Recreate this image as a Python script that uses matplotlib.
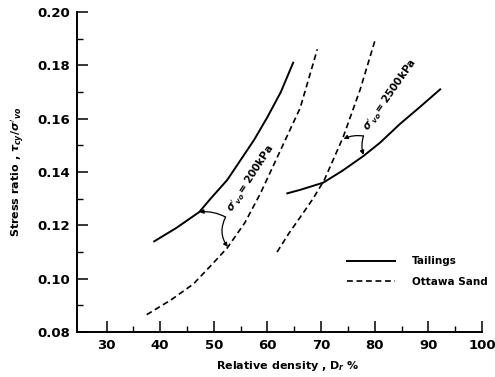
import matplotlib
matplotlib.use("Agg")
import matplotlib.pyplot as plt
from matplotlib.ticker import FixedLocator

# values
tail_200_x = [38.9, 43.0, 47.3, 49.4, 52.5, 55.0, 57.5, 60.0, 62.5, 64.8]
tail_200_y = [0.114, 0.119, 0.125, 0.130, 0.137, 0.1445, 0.152, 0.1606, 0.170, 0.181]

ott_200_x = [37.5, 42.0, 46.2, 49.5, 52.5, 55.8, 58.7, 62.4, 66.1, 69.3]
ott_200_y = [0.0865, 0.092, 0.098, 0.105, 0.1115, 0.121, 0.132, 0.148, 0.164, 0.186]

tail_2500_x = [63.7, 66.1, 70.4, 74.0, 77.9, 81.0, 84.7, 88.5, 92.2]
tail_2500_y = [0.132, 0.1333, 0.136, 0.1405, 0.146, 0.151, 0.158, 0.1645, 0.171]

ott_2500_x = [61.8, 64.0, 66.1, 68.5, 70.6, 74.1, 77.3, 80.0]
ott_2500_y = [0.110, 0.117, 0.123, 0.130, 0.137, 0.153, 0.171, 0.189]

# annotation pointers: junction, tip on tailings, tip on sand
ann_200 = [(52.2, 0.1231), (47.3, 0.125), (52.6, 0.1119)]
ann_2500 = [(77.9, 0.1535), (74.2, 0.1524), (77.9, 0.1464)]

x_major = [30, 40, 50, 60, 70, 80, 90, 100]
x_minor = [35, 45, 55, 65, 75, 85, 95]
y_major = [0.08, 0.10, 0.12, 0.14, 0.16, 0.18, 0.20]
y_minor = [0.09, 0.11, 0.13, 0.15, 0.17, 0.19]
y_labels = ['0.08', '0.10', '0.12', '0.14', '0.16', '0.18', '0.20']

plt.rcParams['font.family'] = ['DejaVu Sans']
plt.rcParams['font.weight'] = 'bold'

fig = plt.figure(figsize=(4.95, 3.77), dpi=100)
ax = fig.add_axes([77/495, 1-332/377, 405/495, 320/377])

dash = (0, (3.5, 2.2))
ax.plot(tail_200_x, tail_200_y, color='black', lw=1.4, label='Tailings')
ax.plot(ott_200_x, ott_200_y, color='black', lw=1.2, linestyle=dash, label='Ottawa Sand')
ax.plot(tail_2500_x, tail_2500_y, color='black', lw=1.4)
ax.plot(ott_2500_x, ott_2500_y, color='black', lw=1.2, linestyle=dash)

for pts, rad in [(ann_200, 0.3), (ann_2500, 0.15)]:
    j, t1, t2 = pts
    ax.annotate('', xy=t1, xytext=j,
                arrowprops=dict(arrowstyle='-|>', color='black', lw=0.9,
                                mutation_scale=6, shrinkA=0, shrinkB=0,
                                connectionstyle='arc3,rad=0.15'))
    ax.annotate('', xy=t2, xytext=j,
                arrowprops=dict(arrowstyle='-|>', color='black', lw=0.9,
                                mutation_scale=6, shrinkA=0, shrinkB=0,
                                connectionstyle='arc3,rad=%s' % rad))

ax.text(56.9, 0.1375, r"$\sigma'_{vo}$= 200kPa", rotation=57, fontsize=7.5,
        ha='center', va='center', fontweight='bold')
ax.text(83.0, 0.1689, r"$\sigma'_{vo}$= 2500kPa", rotation=55, fontsize=7.5,
        ha='center', va='center', fontweight='bold')

ax.set_xlim(24.5, 100)
ax.set_ylim(0.08, 0.20)
ax.xaxis.set_major_locator(FixedLocator(x_major))
ax.xaxis.set_minor_locator(FixedLocator(x_minor))
ax.yaxis.set_major_locator(FixedLocator(y_major))
ax.yaxis.set_minor_locator(FixedLocator(y_minor))
ax.set_yticklabels(y_labels)
ax.tick_params(which='major', direction='in', length=8, width=1.1, labelsize=9.5, pad=5)
ax.tick_params(which='minor', direction='in', length=4.5, width=1.0)
for lab in ax.get_xticklabels() + ax.get_yticklabels():
    lab.set_fontweight('bold')

ax.spines['top'].set_visible(False)
ax.spines['right'].set_visible(False)
ax.spines['left'].set_linewidth(1.4)
ax.spines['bottom'].set_linewidth(1.4)

ax.set_xlabel('Relative density , D$_r$ %', fontsize=8, fontweight='bold', labelpad=3)
ax.xaxis.set_label_coords(0.52, -0.085)
ax.set_ylabel(r"Stress ratio , $\tau_{cy}/\sigma'_{vo}$", fontsize=8, fontweight='bold', labelpad=7)

ax.legend(loc='upper left', bbox_to_anchor=(0.667, 0.236), frameon=False,
          handlelength=4.6, handletextpad=1.6, labelspacing=1.0,
          borderpad=0, borderaxespad=0, prop={'weight': 'bold', 'size': 7.5})

fig.savefig('out.png', dpi=100)
